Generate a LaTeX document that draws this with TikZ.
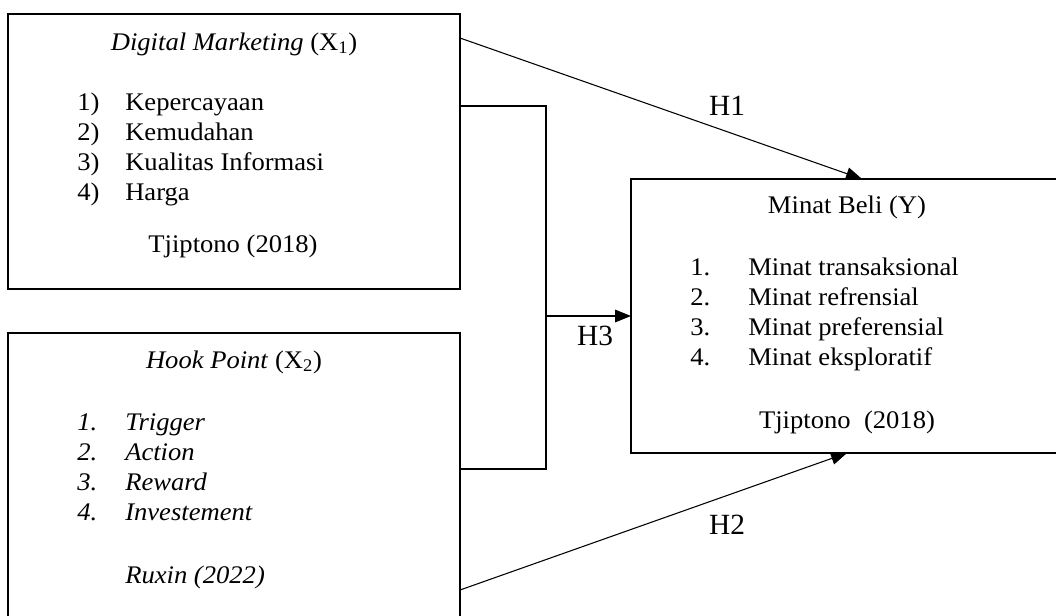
\documentclass[tikz,border=0pt]{standalone}
\usepackage{fontspec}
\setmainfont{Liberation Serif}
\newfontfamily\bodyfont[FakeStretch=1.05]{Liberation Serif}
\usetikzlibrary{arrows.meta,fit}
\tikzset{
  box/.style={draw, line width=1.8pt, inner sep=0pt, outer sep=0pt},
  txt/.style={font=\bodyfont\fontsize{19}{23}\selectfont, inner sep=0pt},
  itxt/.style={txt, font=\bodyfont\itshape\fontsize{19}{23}\selectfont},
  lbl/.style={font=\fontsize{22}{26}\selectfont, inner sep=0pt, anchor=base},
  conn/.style={line width=0.8pt},
  arr/.style={conn, -{Triangle[length=12pt,width=9.5pt]}}
}
\begin{document}
\begin{tikzpicture}[x=0.75pt,y=-0.75pt]
\useasboundingbox (0,0) rectangle (1056,615);
\clip (0,0) rectangle (1056,615);
% boxes
\node[box, fit={(8,14) (460,289)}] (x1) {};
\node[box, fit={(8,333) (460,625)}] (x2) {};
\node[box, fit={(631,179) (1066,453)}] (y) {};
% box X1 text
\node[txt, anchor=base] (x1t) at (234,50) {\textit{Digital Marketing} (X\textsubscript{1})};
\node[txt, anchor=base west] (x1n1) at (77,110) {1)};
\node[txt, anchor=base west] (x1i1) at (125,110) {Kepercayaan};
\node[txt, anchor=base west] (x1n2) at (77,140) {2)};
\node[txt, anchor=base west] (x1i2) at (125,140) {Kemudahan};
\node[txt, anchor=base west] (x1n3) at (77,170) {3)};
\node[txt, anchor=base west] (x1i3) at (125,170) {Kualitas Informasi};
\node[txt, anchor=base west] (x1n4) at (77,200) {4)};
\node[txt, anchor=base west] (x1i4) at (125,200) {Harga};
\node[txt, anchor=base] (x1s) at (233,252) {Tjiptono (2018)};
% box X2 text
\node[txt, anchor=base] (x2t) at (234,368) {\textit{Hook Point} (X\textsubscript{2})};
\node[itxt, anchor=base west] (x2n1) at (77,430) {1.};
\node[itxt, anchor=base west] (x2i1) at (125,430) {Trigger};
\node[itxt, anchor=base west] (x2n2) at (77,460) {2.};
\node[itxt, anchor=base west] (x2i2) at (125,460) {Action};
\node[itxt, anchor=base west] (x2n3) at (77,490) {3.};
\node[itxt, anchor=base west] (x2i3) at (125,490) {Reward};
\node[itxt, anchor=base west] (x2n4) at (77,520) {4.};
\node[itxt, anchor=base west] (x2i4) at (125,520) {Investement};
\node[itxt, anchor=base west] (x2s) at (125,583) {Ruxin (2022)};
% box Y text
\node[txt, anchor=base] (yt) at (847,213) {Minat Beli (Y)};
\node[txt, anchor=base west] (yn1) at (690,275) {1.};
\node[txt, anchor=base west] (yi1) at (748,275) {Minat transaksional};
\node[txt, anchor=base west] (yn2) at (690,305) {2.};
\node[txt, anchor=base west] (yi2) at (748,305) {Minat refrensial};
\node[txt, anchor=base west] (yn3) at (690,335) {3.};
\node[txt, anchor=base west] (yi3) at (748,335) {Minat preferensial};
\node[txt, anchor=base west] (yn4) at (690,365) {4.};
\node[txt, anchor=base west] (yi4) at (748,365) {Minat eksploratif};
\node[txt, anchor=base] (ys) at (847,428) {Tjiptono\ \ (2018)};
% connectors
\coordinate (j) at (546,0);
\draw[arr] ([shift={(0,24)}]x1.north east) -- ([shift={(231,0)}]y.north west);
\draw[conn] ([shift={(0,92)}]x1.north east) -| (j |- 0,469) -- ([shift={(0,136)}]x2.north east);
\draw[arr] (j |- y.west) -- (y.west);
\draw[arr] ([shift={(0,257)}]x2.north east) -- ([shift={(216,0)}]y.south west);
% labels
\node[lbl] (h1) at (727,115) {H1};
\node[lbl] (h3) at (595,345) {H3};
\node[lbl] (h2) at (727,534) {H2};
\end{tikzpicture}
\end{document}
